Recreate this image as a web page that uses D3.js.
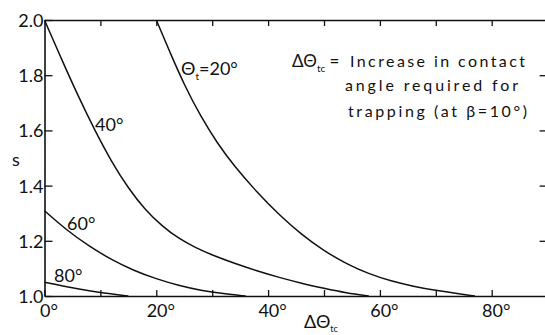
<!DOCTYPE html>
<html>
<head>
<meta charset="utf-8">
<script src="https://cdn.jsdelivr.net/npm/d3@7"></script>
<style>
  body { margin: 0; background: #fff; }
  svg text { font-family: Lato, "DejaVu Sans", sans-serif; fill: #111; }
</style>
</head>
<body>
<svg width="545" height="335"></svg>
<script>
// delta theta_tc (deg) and s for each theta_t curve
var dtc20 = [20, 22.5, 25, 28, 31, 34, 38, 42, 46, 50, 54, 58, 62, 66, 70, 74, 77];
var s20   = [2.0, 1.88, 1.765, 1.648, 1.551, 1.469, 1.376, 1.293, 1.222, 1.163, 1.117, 1.080, 1.054, 1.035, 1.020, 1.008, 1.0];
var dtc40 = [0, 3, 6, 9, 12, 15, 18, 21, 24, 27, 30, 34, 38, 42, 46, 50, 54, 58];
var s40   = [2.0, 1.86, 1.725, 1.60, 1.486, 1.39, 1.312, 1.254, 1.208, 1.175, 1.148, 1.118, 1.091, 1.067, 1.046, 1.028, 1.011, 1.0];
var dtc60 = [0, 4, 8, 12, 16, 20, 24, 28, 32, 36];
var s60   = [1.309, 1.238, 1.18, 1.131, 1.092, 1.062, 1.038, 1.02, 1.008, 1.0];
var dtc80 = [0, 4, 8, 12, 15];
var s80   = [1.05, 1.033, 1.019, 1.007, 1.0];

var yTicks = [1.0, 1.2, 1.4, 1.6, 1.8, 2.0];
var xTicks = [0, 10, 20, 30, 40, 50, 60, 70, 80];
var xLabelTicks = [0, 20, 40, 60, 80];

var svg = d3.select("svg");

var x = d3.scaleLinear().domain([0, 90]).range([44.5, 44.5 + 90 * 5.59]);
var y = d3.scaleLinear().domain([1, 2]).range([296, 20]);

function styleAxis(g) {
  g.select(".domain").attr("stroke", "#111").attr("stroke-width", 1.6);
  g.selectAll(".tick line").attr("stroke", "#111").attr("stroke-width", 1.3);
  g.selectAll("text").attr("font-size", 18).attr("fill", "#111");
}

// left
svg.append("g")
    .attr("transform", "translate(" + x(0) + ",0)")
    .call(d3.axisLeft(y).tickValues(yTicks).tickSizeInner(-8).tickSizeOuter(0)
      .tickPadding(1).tickFormat(d3.format(".1f")))
    .call(styleAxis)
    .call(function(g) { g.selectAll("text").attr("dy", "0.36em"); });

// bottom
svg.append("g")
    .attr("transform", "translate(0," + y(1) + ")")
    .call(d3.axisBottom(x).tickValues(xTicks).tickSizeInner(-6).tickSizeOuter(0)
      .tickPadding(8)
      .tickFormat(function(d) { return xLabelTicks.indexOf(d) >= 0 ? d + "°" : ""; }))
    .call(styleAxis)
    .call(function(g) { g.selectAll("text").attr("dx", "4"); });

// top
svg.append("g")
    .attr("transform", "translate(0," + y(2) + ")")
    .call(d3.axisTop(x).tickValues(xTicks.slice(1)).tickSizeInner(-6).tickSizeOuter(0)
      .tickFormat(""))
    .call(styleAxis);

// right (only ticks show, the line is off the page)
svg.append("g")
    .attr("transform", "translate(" + x(90) + ",0)")
    .call(d3.axisRight(y).tickValues(yTicks.slice(1, 5)).tickSizeInner(-8).tickSizeOuter(0)
      .tickFormat(""))
    .call(styleAxis);

var line = d3.line()
    .x(function(d) { return x(d[0]); })
    .y(function(d) { return y(d[1]); })
    .curve(d3.curveBasis);

[[dtc20, s20], [dtc40, s40], [dtc60, s60], [dtc80, s80]].forEach(function(c) {
  svg.append("path")
      .datum(d3.zip(c[0], c[1]))
      .attr("fill", "none")
      .attr("stroke", "#111")
      .attr("stroke-width", 1.5)
      .attr("d", line);
});

// curve labels
svg.append("text").attr("x", 95).attr("y", 131).attr("font-size", 18).text("40°");
svg.append("text").attr("x", 67).attr("y", 230).attr("font-size", 18).text("60°");
svg.append("text").attr("x", 54).attr("y", 282).attr("font-size", 18).text("80°");

var t20 = svg.append("text").attr("x", 181).attr("y", 75).attr("font-size", 18);
t20.append("tspan").text("Θ");
t20.append("tspan").attr("font-size", 10).attr("dy", 5).text("t");
t20.append("tspan").attr("dy", -5).text("=20°");

// axis titles
svg.append("text").attr("x", 16).attr("y", 166).attr("font-size", 18)
    .attr("text-anchor", "middle").text("s");

var xt = svg.append("text").attr("x", 304).attr("y", 328).attr("font-size", 18);
xt.append("tspan").text("ΔΘ");
xt.append("tspan").attr("font-size", 9).attr("dy", 4).text("tc");

// note
var n1 = svg.append("text").attr("x", 292).attr("y", 67).attr("font-size", 17);
n1.append("tspan").text("ΔΘ");
n1.append("tspan").attr("font-size", 10).attr("dy", 5).text("tc");
n1.append("tspan").attr("dy", -5).text(" =");
svg.append("text").attr("x", 350).attr("y", 67).attr("font-size", 16)
    .attr("textLength", 175).attr("lengthAdjust", "spacing").text("Increase in contact");
svg.append("text").attr("x", 345).attr("y", 91).attr("font-size", 16)
    .attr("textLength", 173).attr("lengthAdjust", "spacing").text("angle required for");
svg.append("text").attr("x", 348).attr("y", 117).attr("font-size", 16)
    .attr("textLength", 179).attr("lengthAdjust", "spacing").text("trapping (at β=10°)");
</script>
</body>
</html>
